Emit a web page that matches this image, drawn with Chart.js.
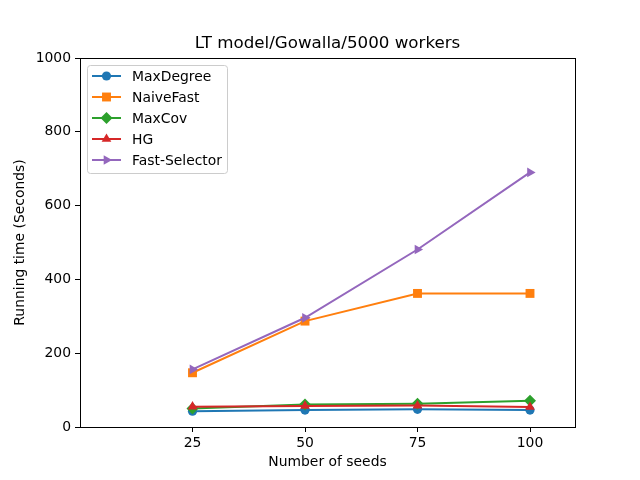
<!DOCTYPE html>
<html>
<head>
<meta charset="utf-8">
<script src="https://cdn.jsdelivr.net/npm/chart.js@4/dist/chart.umd.min.js"></script>
<style>
  body { margin: 0; background: #fff; }
  #wrap { width: 640px; height: 480px; }
</style>
</head>
<body>
<div id="wrap"><canvas id="chart" width="640" height="480"></canvas></div>
<script>
const seeds = [25, 50, 75, 100];
const xTicks = [25, 50, 75, 100];
const yTicks = [0, 200, 400, 600, 800, 1000];
const seriesNames = ["MaxDegree", "NaiveFast", "MaxCov", "HG", "Fast-Selector"];
const maxDegree = [43, 46, 48, 46];
const naiveFast = [147, 287, 362, 362];
const maxCov = [50, 61, 63, 71];
const hg = [55, 57, 58, 54];
const fastSelector = [156, 296, 481, 690];
const chartTitle = "LT model/Gowalla/5000 workers";

const colors = ["#1f77b4", "#ff7f0e", "#2ca02c", "#d62728", "#9467bd"];
const markers = [
    { style: "circle", rot: 0, r: 4.6 },
    { style: "rect", rot: 0, r: 6.3 },
    { style: "rectRot", rot: 0, r: 6 },
    { style: "triangle", rot: 0, r: 5.6 },
    { style: "triangle", rot: 90, r: 5.6 }
];
const values = [maxDegree, naiveFast, maxCov, hg, fastSelector];

const FONT = "'DejaVu Sans', sans-serif";

const datasets = seriesNames.map((name, i) => ({
    label: name,
    data: seeds.map((s, j) => ({ x: s, y: values[i][j] })),
    borderColor: colors[i],
    backgroundColor: colors[i],
    borderWidth: 2,
    pointStyle: markers[i].style,
    pointRotation: markers[i].rot,
    pointRadius: markers[i].r,
    pointBorderWidth: 0,
    pointHoverRadius: markers[i].r,
    order: seriesNames.length - i,
    tension: 0
}));

// title centred over the plot area, like matplotlib
const plotTitle = {
    id: "plotTitle",
    afterDraw(chart) {
        const a = chart.chartArea;
        const ctx = chart.ctx;
        ctx.save();
        ctx.fillStyle = "#000";
        ctx.font = "16.7px " + FONT;
        ctx.textAlign = "center";
        ctx.textBaseline = "middle";
        ctx.fillText(chartTitle, (a.left + a.right) / 2, 44);
        ctx.restore();
    }
};

// legend drawn inside the plot, matplotlib style
const innerLegend = {
    id: "innerLegend",
    afterDraw(chart) {
        const ctx = chart.ctx;
        const area = chart.chartArea;
        const x0 = area.left + 7, y0 = area.top + 7;
        const w = 140, h = 108;
        ctx.save();
        ctx.fillStyle = "rgba(255,255,255,0.8)";
        ctx.strokeStyle = "#cccccc";
        ctx.lineWidth = 1;
        ctx.beginPath();
        ctx.roundRect(x0 + 0.5, y0 + 0.5, w, h, 3);
        ctx.fill();
        ctx.stroke();
        ctx.font = "13.9px " + FONT;
        ctx.textBaseline = "middle";
        seriesNames.forEach((name, i) => {
            const y = y0 + 11 + i * 21;
            ctx.strokeStyle = colors[i];
            ctx.lineWidth = 2;
            ctx.beginPath();
            ctx.moveTo(x0 + 5, y);
            ctx.lineTo(x0 + 34, y);
            ctx.stroke();
            ctx.fillStyle = colors[i];
            Chart.helpers.drawPoint(ctx, {
                pointStyle: markers[i].style,
                rotation: markers[i].rot,
                radius: markers[i].r,
                borderWidth: 0
            }, x0 + 19.5, y);
            ctx.fillStyle = "#000";
            ctx.fillText(name, x0 + 45, y + 1);
        });
        ctx.restore();
    }
};

// black frame round the plot area
const frame = {
    id: "frame",
    afterDraw(chart) {
        const a = chart.chartArea;
        const ctx = chart.ctx;
        ctx.save();
        ctx.strokeStyle = "#000";
        ctx.lineWidth = 1;
        ctx.strokeRect(a.left + 0.5, a.top + 0.5, a.right - a.left, a.bottom - a.top);
        ctx.restore();
    }
};

new Chart(document.getElementById("chart"), {
    type: "line",
    data: { datasets: datasets },
    plugins: [frame, innerLegend, plotTitle],
    options: {
        responsive: false,
        animation: false,
        layout: { padding: { left: 0, right: 65, top: 58, bottom: 0 } },
        plugins: {
            legend: { display: false },
            tooltip: { enabled: false },
            title: { display: false }
        },
        scales: {
            x: {
                type: "linear",
                min: 0,
                max: 110,
                afterBuildTicks: (scale) => { scale.ticks = xTicks.map(v => ({ value: v })); },
                afterFit: (scale) => { scale.height = 53; },
                grid: { drawOnChartArea: false, drawTicks: true, tickLength: 5, color: "#000" },
                border: { display: false },
                ticks: { color: "#000", font: { family: FONT, size: 13.9 }, padding: 3, maxRotation: 0 },
                title: {
                    display: true,
                    text: "Number of seeds",
                    color: "#000",
                    font: { family: FONT, size: 13.9 },
                    padding: { top: 0, bottom: 9 }
                }
            },
            y: {
                min: 0,
                max: 1000,
                afterBuildTicks: (scale) => { scale.ticks = yTicks.map(v => ({ value: v })); },
                afterFit: (scale) => { scale.width = 80; },
                grid: { drawOnChartArea: false, drawTicks: true, tickLength: 5, color: "#000" },
                border: { display: false },
                ticks: {
                    color: "#000",
                    font: { family: FONT, size: 13.9 },
                    padding: 4,
                    callback: (v) => String(v)
                },
                title: {
                    display: true,
                    text: "Running time (Seconds)",
                    color: "#000",
                    font: { family: FONT, size: 13.9 },
                    padding: { top: 12, bottom: 0 }
                }
            }
        }
    }
});
</script>
</body>
</html>
